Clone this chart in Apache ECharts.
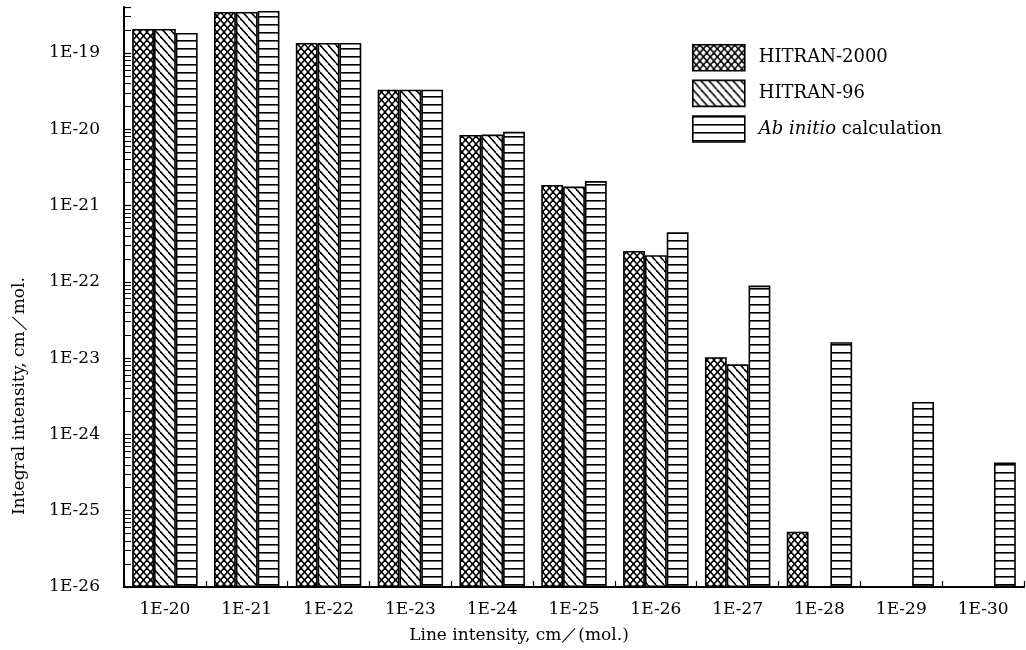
<!DOCTYPE html>
<html>
<head>
<meta charset="utf-8">
<script src="https://cdn.jsdelivr.net/npm/echarts@6/dist/echarts.min.js"></script>
<style>
html,body{margin:0;padding:0;background:#fff;}
#chart{width:1026px;height:650px;}
</style>
</head>
<body>
<div id="chart"></div>
<script>
const categories = ['1E-20','1E-21','1E-22','1E-23','1E-24','1E-25','1E-26','1E-27','1E-28','1E-29','1E-30'];
const hitran2000 = [2.06e-19, 3.44e-19, 1.35e-19, 3.3e-20, 8.4e-21, 1.86e-21, 2.54e-22, 1.03e-23, 5.3e-26, null, null];
const hitran96   = [2.06e-19, 3.44e-19, 1.35e-19, 3.3e-20, 8.5e-21, 1.77e-21, 2.23e-22, 8.3e-24, null, null, null];
const abInitio   = [1.83e-19, 3.55e-19, 1.35e-19, 3.3e-20, 9.25e-21, 2.09e-21, 4.45e-22, 8.94e-23, 1.62e-23, 2.66e-24, 4.28e-25];
const seriesNames = ['HITRAN-2000', 'HITRAN-96', 'Ab initio calculation'];
const yMin = 1e-26;
const yMax = 4e-19;

// ECharts rounds very small numbers, so values are expressed in units of 1E-26 for the axis.
const SHIFT = 26;
const UNIT = 1e-26;
const toAxis = v => (v == null ? '-' : v / UNIT);

const FONT = 'DejaVu Serif';

function makePattern(type) {
  const c = document.createElement('canvas');
  const ctx = c.getContext('2d');
  let w, h;
  if (type === 'cross') {
    w = 7; h = 8; c.width = w; c.height = h;
    ctx.fillStyle = '#fff'; ctx.fillRect(0, 0, w, h);
    ctx.strokeStyle = '#000'; ctx.lineWidth = 1.5;
    for (let k = -1; k <= 1; k++) {
      ctx.beginPath(); ctx.moveTo(k * w, 0); ctx.lineTo(k * w + w, h); ctx.stroke();
      ctx.beginPath(); ctx.moveTo(k * w + w, 0); ctx.lineTo(k * w, h); ctx.stroke();
    }
  } else if (type === 'diag') {
    w = 8; h = 9; c.width = w; c.height = h;
    ctx.fillStyle = '#fff'; ctx.fillRect(0, 0, w, h);
    ctx.strokeStyle = '#000'; ctx.lineWidth = 1.5;
    for (let k = -1; k <= 1; k++) {
      ctx.beginPath(); ctx.moveTo(k * w, 0); ctx.lineTo(k * w + w, h); ctx.stroke();
    }
  } else {
    w = 8; h = 8; c.width = w; c.height = h;
    ctx.fillStyle = '#fff'; ctx.fillRect(0, 0, w, h);
    ctx.fillStyle = '#000'; ctx.fillRect(0, 0, w, 1.6);
  }
  return { image: c, repeat: 'repeat' };
}

const patterns = [makePattern('cross'), makePattern('diag'), makePattern('horiz')];
const dataSets = [hitran2000, hitran96, abInitio];

const chart = echarts.init(document.getElementById('chart'), null, { renderer: 'canvas' });

const series = seriesNames.map((name, i) => ({
  name: name,
  type: 'bar',
  data: dataSets[i].map(toAxis),
  barGap: '0%',
  barCategoryGap: '20%',
  itemStyle: { color: patterns[i], borderColor: '#000', borderWidth: 1.6 },
  emphasis: { disabled: true },
  animation: false
}));

chart.setOption({
  animation: false,
  backgroundColor: '#fff',
  textStyle: { fontFamily: FONT },
  grid: { left: 124, right: 2, top: 7, bottom: 63, containLabel: false },
  legend: {
    orient: 'vertical',
    left: 692,
    top: 44,
    padding: 0,
    itemWidth: 52,
    itemHeight: 26,
    itemGap: 8,
    selectedMode: false,
    textStyle: {
      fontFamily: FONT, fontSize: 18, color: '#000', padding: [0, 0, 0, 9],
      rich: { i: { fontFamily: FONT, fontStyle: 'italic', fontSize: 18, color: '#000' } }
    },
    formatter: function (n) {
      if (n === 'Ab initio calculation') return '{i|Ab initio} calculation';
      return n;
    },
    data: seriesNames.map((n, i) => ({ name: n, icon: 'rect', itemStyle: { color: patterns[i], borderColor: '#000', borderWidth: 1.6 } }))
  },
  xAxis: {
    type: 'category',
    data: categories,
    name: 'Line intensity, cm\uFF0F(mol.)',
    nameLocation: 'middle',
    nameGap: 40,
    nameTextStyle: { fontFamily: FONT, fontSize: 17, color: '#000', padding: [0, 110, 0, 0] },
    axisLine: { lineStyle: { color: '#000', width: 2 } },
    axisTick: { show: true, inside: true, length: 6, lineStyle: { color: '#000', width: 1.2 } },
    axisLabel: { fontFamily: FONT, fontSize: 17, color: '#000', margin: 14 },
    splitLine: { show: false }
  },
  yAxis: {
    type: 'log',
    logBase: 10,
    min: yMin / UNIT,
    max: yMax / UNIT,
    interval: 1,
    name: 'Integral intensity, cm\uFF0Fmol.',
    nameLocation: 'middle',
    nameGap: 96,
    nameRotate: 90,
    nameTextStyle: { fontFamily: FONT, fontSize: 17, color: '#000', padding: [0, 198, 0, 0] },
    axisLine: { show: true, lineStyle: { color: '#000', width: 2 } },
    axisTick: { show: true, inside: true, length: 7, lineStyle: { color: '#000', width: 1.2 } },
    minorTick: { show: true, splitNumber: 9, length: 7, lineStyle: { color: '#000', width: 1 } },
    axisLabel: {
      fontFamily: FONT, fontSize: 17, color: '#000', margin: 24,
      showMaxLabel: false,
      formatter: function (v) {
        const e = Math.log10(v);
        if (Math.abs(e - Math.round(e)) > 1e-6) return '';
        return '1E' + (Math.round(e) - SHIFT);
      }
    },
    splitLine: { show: false }
  },
  series: series
});
</script>
</body>
</html>
